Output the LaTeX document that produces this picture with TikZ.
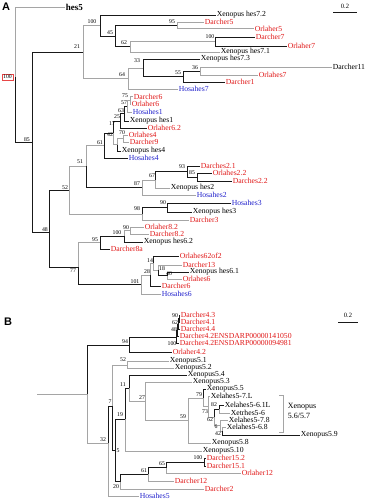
\documentclass[tikz,border=0pt]{standalone}
\usepackage{fontspec}
\setmainfont{Liberation Serif}
\newfontfamily\labsans{Liberation Sans}
\definecolor{rd}{RGB}{225,25,25}
\definecolor{bl}{RGB}{35,35,205}
\definecolor{gl}{RGB}{165,165,165}
\tikzset{
 blk/.style={draw=black!90, line width=0.8pt},
 gry/.style={draw=gl, line width=0.75pt},
 lf/.style={anchor=west, inner sep=0.6pt, font=\fontsize{7.7}{8}\selectfont},
 lr/.style={lf, text=rd},
 lb/.style={lf, text=bl},
 bs/.style={font=\fontsize{5.8}{6}\selectfont, inner sep=0pt},
 panel/.style={font=\labsans\bfseries\fontsize{11}{12}\selectfont, inner sep=0pt},
}
\begin{document}
\begin{tikzpicture}[x=1pt,y=-1pt]
\useasboundingbox[fill=white] (0,0) rectangle (366,499);

% panel letters and scale bars
\node[panel] (pA) at (6,7) {A};
\node[panel] (pB) at (8,322) {B};
\node[bs,font=\fontsize{6.5}{7}\selectfont] (sA) at (345,6) {0.2};
\coordinate (sA1) at (333,12); \coordinate (sA2) at (357,12);
\draw[blk] (sA1) -- (sA2);
\node[bs,font=\fontsize{6.5}{7}\selectfont] (sB) at (348,315) {0.2};
\coordinate (sB1) at (338,322); \coordinate (sB2) at (358,322);
\draw[blk] (sB1) -- (sB2);

% ================= TREE A leaves
\node[lf,font=\bfseries\fontsize{9}{10}\selectfont] (hes5) at (65,7) {hes5};
\node[lf] (x72) at (216,15) {Xenopus hes7.2};
\node[lr] (d5) at (204,22) {Darcher5};
\node[lr] (o5) at (254,28.5) {Orlaher5};
\node[lr] (d7) at (255,37) {Darcher7};
\node[lr] (o7) at (287,46) {Orlaher7};
\node[lf] (x71) at (220,52) {Xenopus hes7.1};
\node[lf] (x73) at (200,59) {Xenopus hes7.3};
\node[lf] (d11) at (332,67) {Darcher11};
\node[lr] (o7b) at (258,75) {Orlahes7};
\node[lr] (d1) at (225,82) {Darcher1};
\node[lb] (h7) at (178,89) {Hosahes7};
\node[lr] (d6) at (133,96.5) {Darcher6};
\node[lr] (o6) at (131,104) {Orlaher6};
\node[lb] (h1) at (132,112) {Hosahes1};
\node[lf] (x1) at (129,121) {Xenopus hes1};
\node[lr] (o62) at (147,128) {Orlaher6.2};
\node[lr] (o4) at (128,135) {Orlahes4};
\node[lr] (d9) at (129,142) {Darcher9};
\node[lf] (x4) at (121,151) {Xenopus hes4};
\node[lb] (h4) at (128,158) {Hosahes4};
\node[lr] (d21) at (200,166) {Darches2.1};
\node[lr] (o22) at (212,173) {Orlahes2.2};
\node[lr] (d22) at (232,181) {Darches2.2};
\node[lf] (x2) at (170,188) {Xenopus hes2};
\node[lb] (h2) at (196,195) {Hosahes2};
\node[lb] (h3) at (231,203) {Hosahes3};
\node[lf] (x3) at (192,212) {Xenopus hes3};
\node[lr] (d3) at (189,220) {Darcher3};
\node[lr] (o82) at (144,227) {Orlaher8.2};
\node[lr] (d82) at (149,234) {Darcher8.2};
\node[lf] (x62) at (143,242) {Xenopus hes6.2};
\node[lr] (d8a) at (110,249) {Darcher8a};
\node[lr] (o62of2) at (179,256) {Orlahes62of2};
\node[lr] (d13) at (182,265) {Darcher13};
\node[lf] (x61) at (189,272) {Xenopus hes6.1};
\node[lr] (o6b) at (182,279) {Orlahes6};
\node[lr] (d6b) at (161,286) {Darcher6};
\node[lb] (h6) at (161,294) {Hosahes6};

% TREE A internal nodes
\coordinate (rA) at (15,77);
\coordinate (a85) at (32,142);
\coordinate (a21) at (83,52);
\coordinate (a100t) at (100,25.5);
\coordinate (a45) at (115,36);
\coordinate (a95) at (177,25);
\coordinate (a62) at (130,46.5);
\coordinate (a100) at (215,41.5);
\coordinate (a64) at (128,78.5);
\coordinate (a33) at (143,68);
\coordinate (a55) at (183,76.5);
\coordinate (a36) at (200,71);
\coordinate (a48) at (49,232);
\coordinate (a52) at (69,190);
\coordinate (a51) at (86,166);
\coordinate (a61) at (104,145.5);
\coordinate (a17) at (113,133);
\coordinate (a25) at (120,121);
\coordinate (a63) at (124,113.5);
\coordinate (a57) at (127,106);
\coordinate (a75) at (130,100);
\coordinate (a42) at (117,144.5);
\coordinate (a70) at (123,138.5);
\coordinate (a87) at (142,187.5);
\coordinate (a67) at (155,180);
\coordinate (a93) at (187,171.5);
\coordinate (a85b) at (197,177);
\coordinate (a98) at (142,214);
\coordinate (a90) at (167,207.5);
\coordinate (a77) at (78,267);
\coordinate (a95b) at (100,242.5);
\coordinate (a100b) at (124,236);
\coordinate (a90b) at (130,230.5);
\coordinate (a101) at (141,284);
\coordinate (a28) at (150,275);
\coordinate (a14) at (153,263);
\coordinate (a18) at (158,270);
\coordinate (a40) at (167,275.5);

% TREE A gray branches
\draw[gry] (rA) |- (hes5.west);
\draw[gry] (a21) |- (a100t);
\draw[gry] (a21) |- (a64);
\draw[gry] (a95) |- (d5.west);
\draw[gry] (a95) |- (o5.west);
\draw[gry] (a62) |- (a100);
\draw[gry] (a62) |- (x71.west);
\draw[gry] (a64) |- (a33);
\draw[gry] (a64) |- (h7.west);
\draw[gry] (a36) |- (d11.west);
\draw[gry] (a36) |- (o7b.west);
\draw[gry] (a52) |- (a51);
\draw[gry] (a52) |- (a98);
\draw[gry] (a51) |- (a61);
\draw[gry] (a17) |- (a42);
\draw[gry] (a57) |- (a75);
\draw[gry] (a57) |- (h1.west);
\draw[gry] (a75) |- (d6.west);
\draw[gry] (a75) |- (o6.west);
\draw[gry] (a42) |- (a70);
\draw[gry] (a70) |- (o4.west);
\draw[gry] (a70) |- (d9.west);
\draw[gry] (a87) |- (a67);
\draw[gry] (a87) |- (h2.west);
\draw[gry] (a67) |- (x2.west);
\draw[gry] (a98) |- (d3.west);
\draw[gry] (a77) |- (a95b);
\draw[gry] (a100b) |- (a90b);
\draw[gry] (a90b) |- (o82.west);
\draw[gry] (a90b) |- (d82.west);
\draw[gry] (a101) |- (a28);
\draw[gry] (a101) |- (h6.west);
\draw[gry] (a28) |- (a14);
\draw[gry] (a14) |- (a18);
\draw[gry] (a18) |- (d13.west);
\draw[gry] (a40) |- (o6b.west);

% TREE A black branches
\draw[blk] (rA) |- (a85);
\draw[blk] (a85) |- (a21);
\draw[blk] (a85) |- (a48);
\draw[blk] (a100t) |- (x72.west);
\draw[blk] (a100t) |- (a45);
\draw[blk] (a45) |- (a95);
\draw[blk] (a45) |- (a62);
\draw[blk] (a100) |- (d7.west);
\draw[blk] (a100) |- (o7.west);
\draw[blk] (a33) |- (x73.west);
\draw[blk] (a33) |- (a55);
\draw[blk] (a55) |- (a36);
\draw[blk] (a55) |- (d1.west);
\draw[blk] (a48) |- (a52);
\draw[blk] (a48) |- (a77);
\draw[blk] (a51) |- (a87);
\draw[blk] (a61) |- (a17);
\draw[blk] (a61) |- (h4.west);
\draw[blk] (a17) |- (a25);
\draw[blk] (a25) |- (a63);
\draw[blk] (a25) |- (o62.west);
\draw[blk] (a63) |- (a57);
\draw[blk] (a63) |- (x1.west);
\draw[blk] (a42) |- (x4.west);
\draw[blk] (a67) |- (a93);
\draw[blk] (a93) |- (d21.west);
\draw[blk] (a93) |- (a85b);
\draw[blk] (a85b) |- (o22.west);
\draw[blk] (a85b) |- (d22.west);
\draw[blk] (a98) |- (a90);
\draw[blk] (a90) |- (h3.west);
\draw[blk] (a90) |- (x3.west);
\draw[blk] (a77) |- (a101);
\draw[blk] (a95b) |- (a100b);
\draw[blk] (a95b) |- (d8a.west);
\draw[blk] (a100b) |- (x62.west);
\draw[blk] (a28) |- (d6b.west);
\draw[blk] (a14) |- (o62of2.west);
\draw[blk] (a18) |- (a40);
\draw[blk] (a40) |- (x61.west);

% TREE A support values
\node[bs,draw=rd!80,inner sep=1pt,line width=0.5pt] (bA0) at (7.5,77) {100};
\node[bs] (bA1) at (77,47) {21};
\node[bs] (bA2) at (92,22) {100};
\node[bs] (bA3) at (110,33) {45};
\node[bs] (bA4) at (172,22) {95};
\node[bs] (bA5) at (124,43) {62};
\node[bs] (bA6) at (210,37) {100};
\node[bs] (bA7) at (122,75) {64};
\node[bs] (bA8) at (137,61) {33};
\node[bs] (bA9) at (178,73) {55};
\node[bs] (bA10) at (195,68) {36};
\node[bs] (bA11) at (27,140) {85};
\node[bs] (bA12) at (125,96) {75};
\node[bs] (bA13) at (124,103) {57};
\node[bs] (bA14) at (121,111) {63};
\node[bs] (bA15) at (117,117) {25};
\node[bs] (bA16) at (112,124) {17};
\node[bs] (bA17) at (122,133) {70};
\node[bs] (bA18) at (110,135) {42};
\node[bs] (bA19) at (100,143) {61};
\node[bs] (bA20) at (80,162) {51};
\node[bs] (bA21) at (182,167) {93};
\node[bs] (bA22) at (192,173) {85};
\node[bs] (bA23) at (152,176) {67};
\node[bs] (bA24) at (137,184) {87};
\node[bs] (bA25) at (163,203) {90};
\node[bs] (bA26) at (137,209) {98};
\node[bs] (bA27) at (65,188) {52};
\node[bs] (bA28) at (45,230) {48};
\node[bs] (bA29) at (126,228) {90};
\node[bs] (bA30) at (117,233) {100};
\node[bs] (bA31) at (95,240) {95};
\node[bs] (bA32) at (73,271) {77};
\node[bs] (bA33) at (150,261) {14};
\node[bs] (bA34) at (147,272) {28};
\node[bs] (bA35) at (162,269) {18};
\node[bs] (bA36) at (169,274) {40};
\node[bs] (bA37) at (135,282) {101};

% ================= TREE B leaves
\node[lr] (b43) at (180,315) {Darcher4.3};
\node[lr] (b41) at (180,322) {Darcher4.1};
\node[lr] (b44) at (180,329) {Darcher4.4};
\node[lr] (b42a) at (179,336) {Darcher4.2ENSDARP00000141050};
\node[lr] (b42b) at (179,343) {Darcher4.2ENSDARP00000094981};
\node[lr] (bo42) at (172,352) {Orlaher4.2};
\node[lf] (x51) at (169,361) {Xenopus5.1};
\node[lf] (x52) at (174,368) {Xenopus5.2};
\node[lf] (x54) at (187,375) {Xenopus5.4};
\node[lf] (x53) at (192,382) {Xenopus5.3};
\node[lf] (x55) at (206,389) {Xenopus5.5};
\node[lf] (xl7L) at (210,396) {Xelahes5-7.L};
\node[lf] (xl61) at (224,405) {Xelahes5-6.1L};
\node[lf] (xt6) at (230,413) {Xetrhes5-6};
\node[lf] (xl78) at (228,420) {Xelahes5-7.8};
\node[lf] (xl68) at (226,427) {Xelahes5-6.8};
\node[lf] (x59) at (300,435) {Xenopus5.9};
\node[lf] (x58) at (211,443) {Xenopus5.8};
\node[lf] (x510) at (202,451) {Xenopus5.10};
\node[lr] (d152) at (206,458) {Darcher15.2};
\node[lr] (d151) at (206,466) {Darcher15.1};
\node[lr] (o12) at (241,473) {Orlaher12};
\node[lr] (d12) at (174,481) {Darcher12};
\node[lr] (d2) at (204,489) {Darcher2};
\node[lb] (h5) at (139,496) {Hosahes5};

% TREE B internal nodes
\coordinate (rB) at (37,394);
\coordinate (b87) at (87,394);
\coordinate (b94) at (129,345);
\coordinate (b100) at (176,337);
\coordinate (b48) at (177,330);
\coordinate (b62) at (178,324);
\coordinate (b90) at (179,318.5);
\coordinate (b32) at (108,443);
\coordinate (b7) at (112,406);
\coordinate (b52) at (127,365);
\coordinate (b5) at (115,450);
\coordinate (b19) at (125,419);
\coordinate (b11) at (129,388);
\coordinate (b27) at (145,401);
\coordinate (b59) at (188,420);
\coordinate (b79) at (203,398);
\coordinate (b73) at (208,406.5);
\coordinate (b62c) at (214,417);
\coordinate (b82) at (219,409);
\coordinate (b6) at (220,425.5);
\coordinate (b42) at (222,431);
\coordinate (b20) at (120,481.5);
\coordinate (b61) at (148,474);
\coordinate (b65) at (166,467.5);
\coordinate (b100c) at (204,462);

% TREE B gray branches
\draw[gry] (rB) -- (b87);
\draw[gry] (b87) |- (b32);
\draw[gry] (b32) |- (h5.west);
\draw[gry] (b7) |- (b52);
\draw[gry] (b52) |- (x51.west);
\draw[gry] (b52) |- (x52.west);
\draw[gry] (b19) |- (x510.west);
\draw[gry] (b11) |- (b27);
\draw[gry] (b27) |- (x53.west);
\draw[gry] (b27) |- (b59);
\draw[gry] (b59) |- (b79);
\draw[gry] (b59) |- (x58.west);
\draw[gry] (b79) |- (b73);
\draw[gry] (b73) |- (xl7L.west);
\draw[gry] (b73) |- (b62c);
\draw[gry] (b62c) |- (b6);
\draw[gry] (b82) |- (xt6.west);
\draw[gry] (b6) |- (xl78.west);
\draw[gry] (b6) |- (b42);
\draw[gry] (b42) |- (xl68.west);
\draw[gry] (b20) |- (d2.west);
\draw[gry] (b61) |- (d12.west);
\draw[gry] (b65) |- (o12.west);

% TREE B black branches
\draw[blk] (b87) |- (b94);
\draw[blk] (b94) |- (b100);
\draw[blk] (b94) |- (bo42.west);
\draw[blk] (b100) |- (b48);
\draw[blk] (b100) |- (b42b.west);
\draw[blk] (b48) |- (b62);
\draw[blk] (b48) |- (b42a.west);
\draw[blk] (b62) |- (b90);
\draw[blk] (b62) |- (b44.west);
\draw[blk] (b90) |- (b43.west);
\draw[blk] (b90) |- (b41.west);
\draw[blk] (b32) |- (b7);
\draw[blk] (b7) |- (b5);
\draw[blk] (b5) |- (b19);
\draw[blk] (b5) |- (b20);
\draw[blk] (b19) |- (b11);
\draw[blk] (b11) |- (x54.west);
\draw[blk] (b79) |- (x55.west);
\draw[blk] (b62c) |- (b82);
\draw[blk] (b82) |- (xl61.west);
\draw[blk] (b42) |- (x59.west);
\draw[blk] (b20) |- (b61);
\draw[blk] (b61) |- (b65);
\draw[blk] (b65) |- (b100c);
\draw[blk] (b100c) |- (d152.west);
\draw[blk] (b100c) |- (d151.west);

% bracket
\coordinate (bk1) at (279,395); \coordinate (bk2) at (283,395);
\coordinate (bk3) at (283,432); \coordinate (bk4) at (279,432);
\draw[gry,line width=0.6pt] (bk1) -- (bk2) -- (bk3) -- (bk4);
\node[lf,font=\fontsize{8}{9}\selectfont] (xen) at (287,407) {Xenopus};
\node[lf,font=\fontsize{8}{9}\selectfont] (xen2) at (287,415.5) {5.6/5.7};

% TREE B support values
\node[bs] (bB1) at (175,316) {90};
\node[bs] (bB2) at (175,323) {62};
\node[bs] (bB3) at (174,330) {48};
\node[bs] (bB4) at (172,343.5) {100};
\node[bs] (bB5) at (125,342) {94};
\node[bs] (bB6) at (123,360) {52};
\node[bs] (bB7) at (123,385) {11};
\node[bs] (bB8) at (142,398) {27};
\node[bs] (bB9) at (199,395) {79};
\node[bs] (bB10) at (205,412) {73};
\node[bs] (bB11) at (214,405) {82};
\node[bs] (bB12) at (210,420) {62};
\node[bs] (bB13) at (216,427) {6};
\node[bs] (bB14) at (218,434) {42};
\node[bs] (bB15) at (183,417) {59};
\node[bs] (bB16) at (110,402) {7};
\node[bs] (bB17) at (120,415) {19};
\node[bs] (bB18) at (118,451) {5};
\node[bs] (bB19) at (103,440) {32};
\node[bs] (bB20) at (198,458) {100};
\node[bs] (bB21) at (162,464) {65};
\node[bs] (bB22) at (144,471) {61};
\node[bs] (bB23) at (116,487) {20};
\end{tikzpicture}
\end{document}
